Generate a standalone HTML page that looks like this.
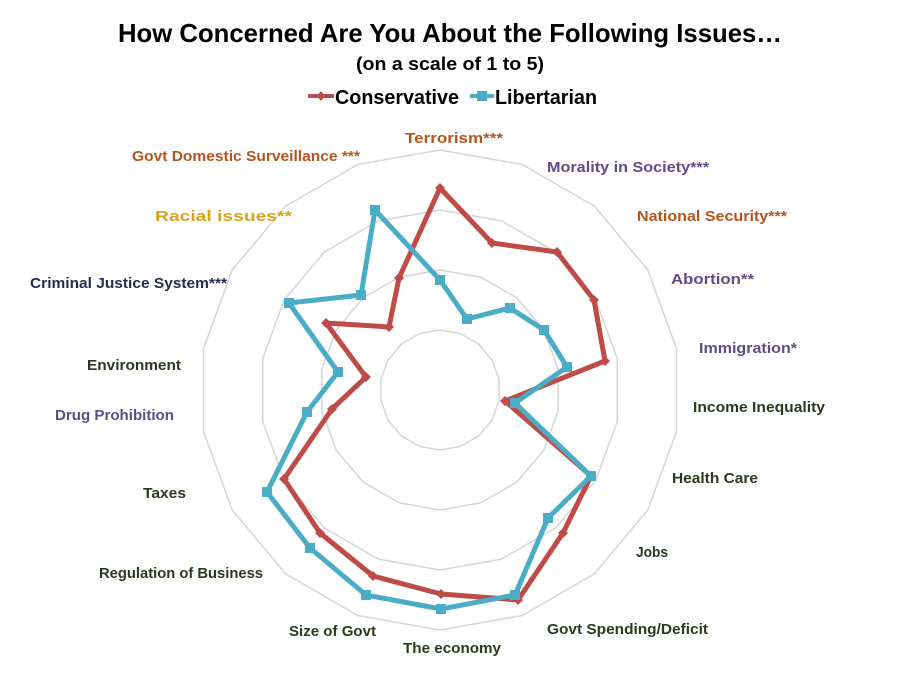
<!DOCTYPE html>
<html><head><meta charset="utf-8"><style>
html,body{margin:0;padding:0;background:#fff;}
svg{display:block;font-family:"Liberation Sans Narrow","Liberation Sans",sans-serif;font-weight:bold;}
</style></head><body>
<svg id="s" width="901" height="675" viewBox="0 0 901 675" xmlns="http://www.w3.org/2000/svg">
<rect width="901" height="675" fill="#fff"/>
<g id="rings" fill="none" stroke="#d6d6d6" stroke-width="1.5"></g>
<text x="450" y="42" text-anchor="middle" font-size="26" fill="#000" textLength="664" lengthAdjust="spacingAndGlyphs">How Concerned Are You About the Following Issues…</text>
<text x="450" y="70" text-anchor="middle" font-size="18" fill="#000" textLength="188" lengthAdjust="spacingAndGlyphs">(on a scale of 1 to 5)</text>
<line x1="308" y1="96" x2="334" y2="96" stroke="#be4b48" stroke-width="4"/>
<path d="M321 91 L325 96 L321 101 L317 96Z" fill="#be4b48"/>
<text x="335" y="104" font-size="20" fill="#000" textLength="124" lengthAdjust="spacingAndGlyphs">Conservative</text>
<line x1="470" y1="96" x2="494" y2="96" stroke="#4bacc6" stroke-width="4"/>
<rect x="477" y="91" width="10" height="10" fill="#4bacc6"/>
<text x="495" y="104" font-size="20" fill="#000" textLength="102" lengthAdjust="spacingAndGlyphs">Libertarian</text>
<g font-size="15">
<text x="405" y="143" fill="#b5551d" textLength="98" lengthAdjust="spacingAndGlyphs">Terrorism***</text>
<text x="132" y="161" fill="#b5551d" textLength="228" lengthAdjust="spacingAndGlyphs">Govt Domestic Surveillance ***</text>
<text x="547" y="172" fill="#5f4b8b" textLength="162" lengthAdjust="spacingAndGlyphs">Morality in Society***</text>
<text x="155" y="221" fill="#d9a21b" textLength="137" lengthAdjust="spacingAndGlyphs">Racial issues**</text>
<text x="637" y="221" fill="#b5551d" textLength="150" lengthAdjust="spacingAndGlyphs">National Security***</text>
<text x="30" y="288" fill="#1f2d4f" textLength="197" lengthAdjust="spacingAndGlyphs">Criminal Justice System***</text>
<text x="671" y="284" fill="#5f4b8b" textLength="83" lengthAdjust="spacingAndGlyphs">Abortion**</text>
<text x="699" y="353" fill="#5f4b8b" textLength="98" lengthAdjust="spacingAndGlyphs">Immigration*</text>
<text x="87" y="370" fill="#2b3a1a" textLength="94" lengthAdjust="spacingAndGlyphs">Environment</text>
<text x="693" y="412" fill="#2b3a1a" textLength="132" lengthAdjust="spacingAndGlyphs">Income Inequality</text>
<text x="55" y="420" fill="#5f4b8b" textLength="119" lengthAdjust="spacingAndGlyphs">Drug Prohibition</text>
<text x="143" y="498" fill="#2b3a1a" textLength="43" lengthAdjust="spacingAndGlyphs">Taxes</text>
<text x="672" y="483" fill="#2b3a1a" textLength="86" lengthAdjust="spacingAndGlyphs">Health Care</text>
<text x="636" y="557" fill="#2b3a1a" textLength="32" lengthAdjust="spacingAndGlyphs">Jobs</text>
<text x="99" y="578" fill="#2b3a1a" textLength="164" lengthAdjust="spacingAndGlyphs">Regulation of Business</text>
<text x="289" y="636" fill="#2b3a1a" textLength="87" lengthAdjust="spacingAndGlyphs">Size of Govt</text>
<text x="547" y="634" fill="#2b3a1a" textLength="161" lengthAdjust="spacingAndGlyphs">Govt Spending/Deficit</text>
<text x="403" y="653" fill="#2b3a1a" textLength="98" lengthAdjust="spacingAndGlyphs">The economy</text>
</g>
<polygon id="cons" fill="none" stroke="#be4b48" stroke-width="5" stroke-linejoin="round"/>
<polygon id="lib" fill="none" stroke="#4bacc6" stroke-width="5" stroke-linejoin="round"/>
<g id="cm" fill="#be4b48"></g>
<g id="lm" fill="#4bacc6"></g>
</svg>
<script>
var cx=440,cy=390,NS="http://www.w3.org/2000/svg";
var rings=document.getElementById("rings");
[60,120,180,240].forEach(function(r){
 var p=[];for(var i=0;i<18;i++){var a=i*20*Math.PI/180;p.push((cx+r*Math.sin(a)).toFixed(1)+","+(cy-r*Math.cos(a)).toFixed(1));}
 var e=document.createElementNS(NS,"polygon");e.setAttribute("points",p.join(" "));rings.appendChild(e);
});
var C=[[440,188],[492,243],[557,252],[594,300],[605,361],[505,401],[591,476],[563,533],[518,600],[441,594],[373,576],[320,533],[284,479],[332,409],[366,377],[326,323],[389,327],[399,278]];
var L=[[440,280],[467,319],[510,308],[544,330],[567,367],[515,403],[591,476],[548,518],[515,595],[441,609],[366,595],[310,548],[267,492],[307,412],[338,372],[289,303],[361,295],[375,210]];
document.getElementById("cons").setAttribute("points",C.map(function(p){return p.join(",")}).join(" "));
document.getElementById("lib").setAttribute("points",L.map(function(p){return p.join(",")}).join(" "));
var cm=document.getElementById("cm"),lm=document.getElementById("lm");
C.forEach(function(p){var e=document.createElementNS(NS,"path");e.setAttribute("d","M"+p[0]+" "+(p[1]-5)+" L"+(p[0]+5)+" "+p[1]+" L"+p[0]+" "+(p[1]+5)+" L"+(p[0]-5)+" "+p[1]+"Z");cm.appendChild(e);});
L.forEach(function(p){var e=document.createElementNS(NS,"rect");e.setAttribute("x",p[0]-5);e.setAttribute("y",p[1]-5);e.setAttribute("width",10);e.setAttribute("height",10);lm.appendChild(e);});
</script>
</body></html>
